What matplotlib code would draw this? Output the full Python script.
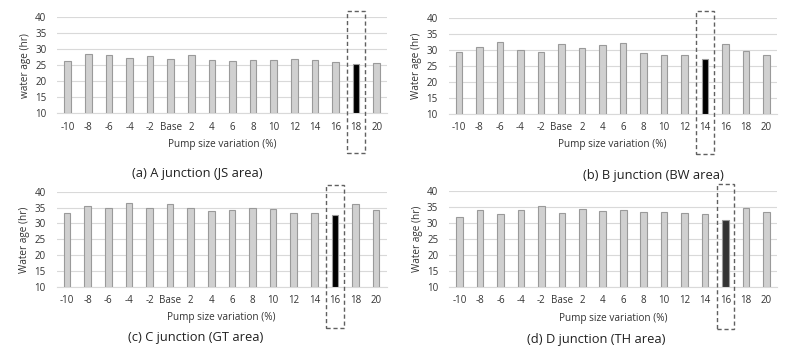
import matplotlib
matplotlib.use("Agg")
import matplotlib.pyplot as plt
from matplotlib.patches import Rectangle
from matplotlib import transforms

plt.rcParams['font.family'] = ['Open Sans', 'DejaVu Sans']

categories = ['-10', '-8', '-6', '-4', '-2', 'Base', '2', '4', '6', '8', '10', '12', '14', '16', '18', '20']

age_a = [26.35, 28.4, 28.1, 27.2, 27.8, 27.0, 28.1, 26.6, 26.35, 26.6, 26.6, 27.0, 26.6, 26.0, 25.3, 25.6]
age_b = [29.3, 31.05, 32.5, 30.1, 29.3, 31.9, 30.8, 31.5, 32.2, 28.95, 28.45, 28.35, 27.2, 32.0, 29.7, 28.55]
age_c = [33.3, 35.5, 34.9, 36.6, 34.9, 36.2, 34.9, 34.0, 34.3, 34.9, 34.6, 33.3, 33.2, 32.6, 36.2, 34.3]
age_d = [31.9, 33.85, 32.8, 34.05, 35.1, 32.95, 34.2, 33.6, 33.85, 33.5, 33.5, 33.0, 32.6, 30.8, 34.5, 33.3]

highlight = ['18', '14', '16', '16']
ylabels = ['water age (hr)', 'Water age (hr)', 'Water age (hr)', 'Water age (hr)']
captions = ['(a) A junction (JS area)', '(b) B junction (BW area)',
            '(c) C junction (GT area)', '(d) D junction (TH area)']
yticks = [10, 15, 20, 25, 30, 35, 40]

W, H = 800, 356
fig = plt.figure(figsize=(W / 100, H / 100), dpi=100)

# axes rectangles in pixels: left, right, top(40), bottom(10)
boxes = [(57.4, 387.0, 17.3, 113.3), (448.7, 776.7, 18.3, 113.7),
         (56.7, 386.5, 191.7, 287.0), (449.3, 776.7, 190.7, 287.0)]
caption_pos = [(197, 173), (653, 175), (196, 338), (596, 339)]
dash_y = [(10.7, 153.3), (10.7, 154.0), (185.3, 327.7), (184.3, 328.7)]
hl_colors = ['#000000', '#000000', '#000000', '#333333']

datas = [age_a, age_b, age_c, age_d]
for i, vals in enumerate(datas):
    l, r, t, b = boxes[i]
    ax = fig.add_axes([l / W, 1 - b / H, (r - l) / W, (b - t) / H])
    x = list(range(len(categories)))
    hi = categories.index(highlight[i])
    colors = ['#D0D0D0'] * len(categories)
    colors[hi] = hl_colors[i]
    heights = [v - 10 for v in vals]
    ax.bar(x, heights, bottom=10, width=0.32, color=colors,
           edgecolor='#9A9A9A', linewidth=0.8, zorder=3)
    ax.set_xlim(-0.5, len(categories) - 0.5)
    ax.set_ylim(10, 40)
    ax.set_yticks(yticks)
    ax.set_xticks(x)
    ax.set_xticklabels(categories)
    ax.tick_params(axis='both', length=0, labelsize=7, colors='#333333')
    ax.tick_params(axis='x', pad=6)
    ax.tick_params(axis='y', pad=8)
    ax.grid(axis='y', color='#D9D9D9', linewidth=0.8, zorder=0)
    for s in ['top', 'right', 'left']:
        ax.spines[s].set_visible(False)
    ax.spines['bottom'].set_color('#D9D9D9')
    ax.spines['bottom'].set_linewidth(0.8)
    ax.set_ylabel(ylabels[i], fontsize=7.2, color='#333333')
    ax.yaxis.set_label_coords(-0.08, 0.5)
    ax.set_xlabel('Pump size variation (%)', fontsize=7.2, color='#333333')
    ax.xaxis.set_label_coords(0.5, -0.265)

    trans = transforms.blended_transform_factory(ax.transData, fig.transFigure)
    y0, y1 = dash_y[i]
    rect = Rectangle((hi - 0.42, 1 - y1 / H), 0.84, (y1 - y0) / H,
                     transform=trans, fill=False, edgecolor='#606060',
                     linestyle=(0, (3, 2)), linewidth=1.0, clip_on=False, zorder=5)
    fig.add_artist(rect)

    cx, cy = caption_pos[i]
    fig.text(cx / W, 1 - cy / H, captions[i], ha='center', va='center',
             fontsize=9.3, color='#202020')

fig.savefig('out.png', dpi=100)
